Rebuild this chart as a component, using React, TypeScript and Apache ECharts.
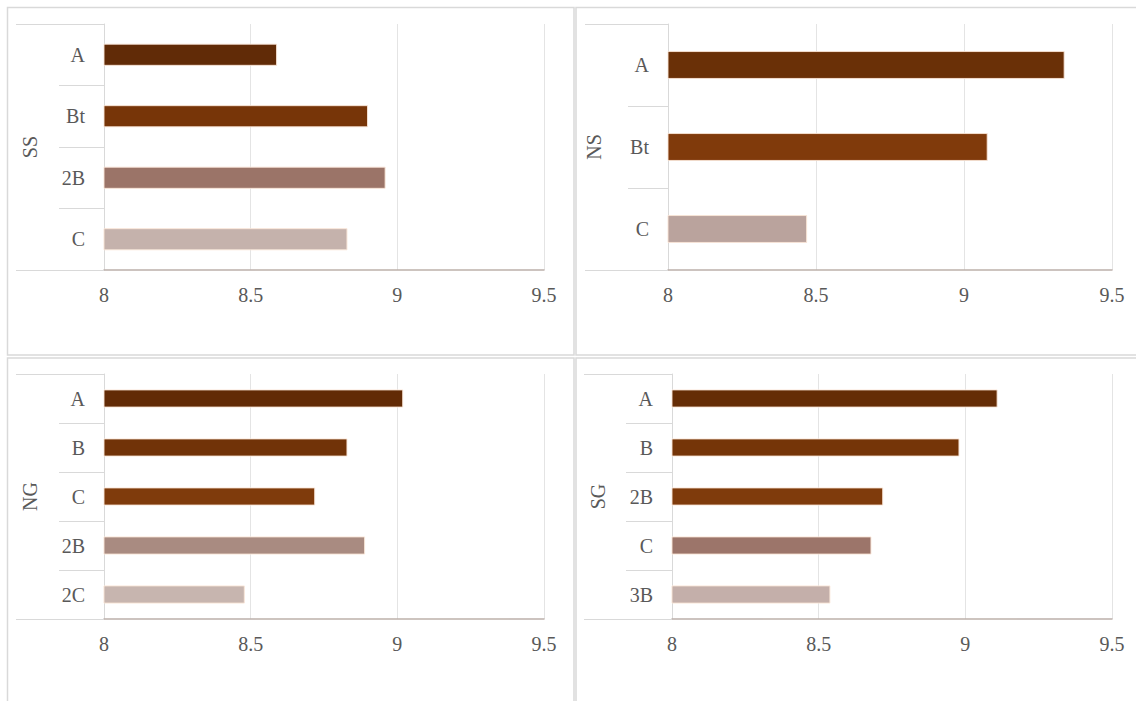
import React, { useEffect, useRef } from "react";
import * as echarts from "echarts";

// Horizon groups and their values
const ssCategories = ["A", "Bt", "2B", "C"];
const ssValues = [8.59, 8.9, 8.96, 8.83];

const nsCategories = ["A", "Bt", "C"];
const nsValues = [9.34, 9.08, 8.47];

const ngCategories = ["A", "B", "C", "2B", "2C"];
const ngValues = [9.02, 8.83, 8.72, 8.89, 8.48];

const sgCategories = ["A", "B", "2B", "C", "3B"];
const sgValues = [9.11, 8.98, 8.72, 8.68, 8.54];

// Bar palettes (one colour per horizon)
const ssColors = ["#612B07", "#773508", "#9B7468", "#C5B2AC"];
const nsColors = ["#6A3007", "#803A0B", "#BAA39D"];
const ngColors = ["#622B06", "#713308", "#7F3B0C", "#A98B81", "#C7B5AF"];
const sgColors = ["#652D06", "#753508", "#7F3B0C", "#9C756A", "#C4AFAA"];

const xTicks = { min: 8, max: 9.5, interval: 0.5 };

const FONT = "'Liberation Serif', 'Times New Roman', serif";
const TEXT = "#595959";
const LIGHT = "#d9d9d9";

type Panel = {
  title: string;
  categories: string[];
  values: number[];
  colors: string[];
  grid: { left: number; top: number; width: number; height: number };
  outerTick: number;
  innerTick: number;
  barWidth: string;
};

const panels: Panel[] = [
  { title: "SS", categories: ssCategories, values: ssValues, colors: ssColors,
    grid: { left: 104, top: 24, width: 440, height: 246 }, outerTick: 88, innerTick: 45, barWidth: "36%" },
  { title: "NS", categories: nsCategories, values: nsValues, colors: nsColors,
    grid: { left: 668, top: 24, width: 444, height: 246 }, outerTick: 83, innerTick: 40, barWidth: "34%" },
  { title: "NG", categories: ngCategories, values: ngValues, colors: ngColors,
    grid: { left: 104, top: 374, width: 440, height: 245 }, outerTick: 88, innerTick: 45, barWidth: "37%" },
  { title: "SG", categories: sgCategories, values: sgValues, colors: sgColors,
    grid: { left: 672, top: 374, width: 440, height: 245 }, outerTick: 88, innerTick: 46, barWidth: "37%" },
];

const panelFrames = [
  { x: 7.5, y: 7.5, w: 566.5, h: 347.5 },
  { x: 576, y: 7.5, w: 570, h: 347.5 },
  { x: 7.5, y: 358, w: 566.5, h: 360 },
  { x: 576, y: 358, w: 570, h: 360 },
];

function buildOption() {
  const grid: any[] = [];
  const xAxis: any[] = [];
  const yAxis: any[] = [];
  const series: any[] = [];

  panels.forEach((p, i) => {
    grid.push({ ...p.grid, containLabel: false, outerBoundsMode: "none" });

    xAxis.push({
      type: "value",
      gridIndex: i,
      position: "bottom",
      min: xTicks.min,
      max: xTicks.max,
      interval: xTicks.interval,
      axisLine: { show: true, lineStyle: { color: "#bcb0aa", width: 1.5 } },
      axisTick: { show: false },
      splitLine: { show: true, lineStyle: { color: "#e4e4e4", width: 1 } },
      axisLabel: { color: TEXT, fontFamily: FONT, fontSize: 20, margin: 15 },
    });

    // inner level: horizon names
    yAxis.push({
      type: "category",
      gridIndex: i,
      position: "left",
      offset: 0,
      data: p.categories,
      inverse: true,
      axisLine: { show: true, lineStyle: { color: LIGHT, width: 1 } },
      axisTick: { show: true, length: p.innerTick, lineStyle: { color: LIGHT, width: 1 } },
      axisLabel: { color: TEXT, fontFamily: FONT, fontSize: 20, margin: 19 },
      splitLine: { show: false },
    });

    // outer level: profile name
    yAxis.push({
      type: "category",
      gridIndex: i,
      position: "left",
      offset: 0,
      data: [p.title],
      axisLine: { show: false },
      axisTick: { show: true, length: p.outerTick, lineStyle: { color: LIGHT, width: 1 } },
      axisLabel: { color: TEXT, fontFamily: FONT, fontSize: 20, rotate: 90, margin: 64 },
      splitLine: { show: false },
    });

    series.push({
      type: "bar",
      xAxisIndex: i,
      yAxisIndex: i * 2,
      barWidth: p.barWidth,
      data: p.values.map((v, k) => ({
        value: v,
        itemStyle: { color: p.colors[k] },
      })),
      itemStyle: { borderColor: "rgba(250,230,215,0.9)", borderWidth: 1 },
    });
  });

  const graphic = panelFrames.map((f) => ({
    type: "rect",
    shape: { x: f.x, y: f.y, width: f.w, height: f.h },
    style: { fill: "none", stroke: LIGHT, lineWidth: 1.5 },
    silent: true,
    z: -1,
  }));

  return {
    animation: false,
    backgroundColor: "#ffffff",
    grid,
    xAxis,
    yAxis,
    series,
    graphic,
  };
}

export default function App() {
  const ref = useRef<HTMLDivElement>(null);

  useEffect(() => {
    if (!ref.current) return;
    const chart = echarts.init(ref.current, undefined, { renderer: "svg" });
    chart.setOption(buildOption());
    return () => chart.dispose();
  }, []);

  return (
    <div
      ref={ref}
      style={{ position: "fixed", left: 0, top: 0, width: 1136, height: 701, background: "#fff" }}
    />
  );
}
